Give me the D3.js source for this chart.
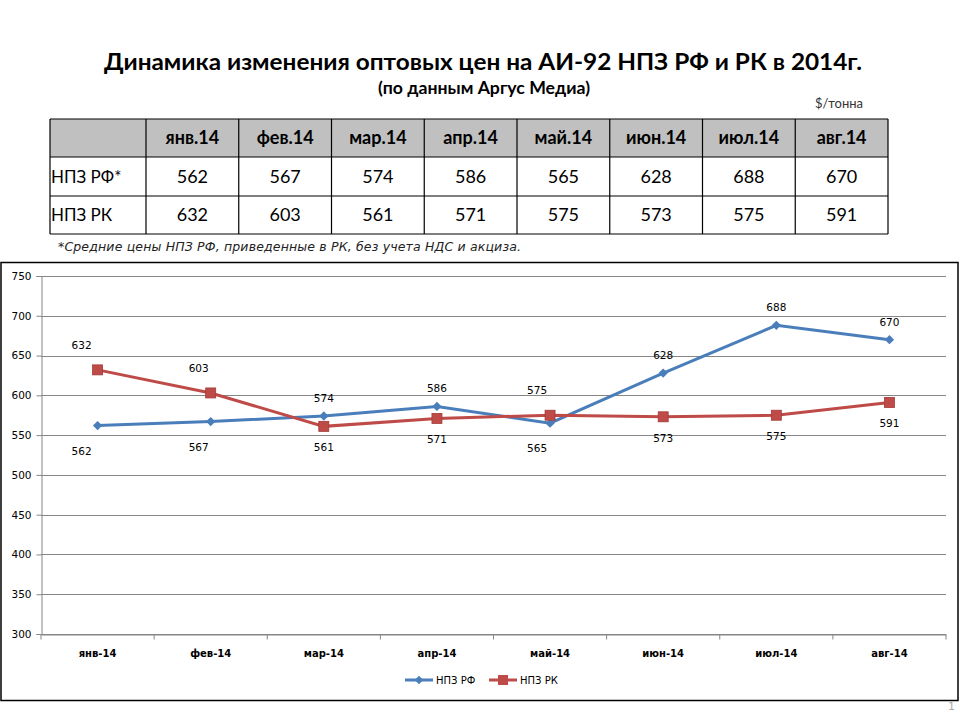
<!DOCTYPE html>
<html><head><meta charset="utf-8">
<script src="https://cdn.jsdelivr.net/npm/d3@7"></script>
<style>body{margin:0;background:#fff}svg{display:block}</style>
</head><body>
<script>
const tableMonths = ["янв.14","фев.14","мар.14","апр.14","май.14","июн.14","июл.14","авг.14"];
const axisMonths = ["янв-14","фев-14","мар-14","апр-14","май-14","июн-14","июл-14","авг-14"];
const rowNames = ["НПЗ РФ*","НПЗ РК"];
const seriesNames = ["НПЗ РФ","НПЗ РК"];
const rfValues = [562,567,574,586,565,628,688,670];
const rkValues = [632,603,561,571,575,573,575,591];
const rfLabelSide = ["below","below","above","above","below","above","above","above"];
const rkLabelSide = ["above","above","below","below","above","below","below","below"];
const labelNudge = [-16,-12,0,0,-13,0,0,0];
const yTicks = [300,350,400,450,500,550,600,650,700,750];

const W=960,H=720;
const svg=d3.select("body").append("svg").attr("width",W).attr("height",H);
const titleFont="Lato, 'Open Sans', sans-serif";
const chartFont="'DejaVu Sans', Verdana, sans-serif";

svg.append("text").attr("x",483).attr("y",70).attr("text-anchor","middle")
 .attr("font-family",titleFont).attr("font-weight","bold").attr("font-size",23)
 .attr("textLength",758).attr("lengthAdjust","spacingAndGlyphs")
 .text("Динамика изменения оптовых цен на АИ-92 НПЗ РФ и РК в 2014г.");
svg.append("text").attr("x",484).attr("y",94).attr("text-anchor","middle")
 .attr("font-family",titleFont).attr("font-weight","bold").attr("font-size",16.5)
 .attr("textLength",212).attr("lengthAdjust","spacingAndGlyphs")
 .text("(по данным Аргус Медиа)");
svg.append("text").attr("x",863).attr("y",108).attr("text-anchor","end")
 .attr("font-family",titleFont).attr("font-size",13).attr("fill","#333")
 .text("$/тонна");

// table
const tx0=50, colW=(888-146)/8, ty=[119,157,196,234];
const tb=svg.append("g");
tb.append("rect").attr("x",tx0).attr("y",ty[0]).attr("width",888-tx0).attr("height",ty[1]-ty[0]).attr("fill","#c0c0c0");
const colX=i=>146+i*colW;
[0,1,2,3].forEach(r=>tb.append("line").attr("x1",tx0).attr("x2",888).attr("y1",ty[r]).attr("y2",ty[r]).attr("stroke","#000").attr("stroke-width",1.2));
for(let i=0;i<=8;i++){tb.append("line").attr("x1",colX(i)).attr("x2",colX(i)).attr("y1",ty[0]).attr("y2",ty[3]).attr("stroke","#000").attr("stroke-width",1.2);}
tb.append("line").attr("x1",tx0).attr("x2",tx0).attr("y1",ty[0]).attr("y2",ty[3]).attr("stroke","#000").attr("stroke-width",1.2);
tableMonths.forEach((m,i)=>tb.append("text").attr("x",colX(i)+colW/2).attr("y",(ty[0]+ty[1])/2+6).attr("text-anchor","middle")
 .attr("font-family",titleFont).attr("font-weight","bold").attr("font-size",18).text(m));
[rfValues,rkValues].forEach((vals,r)=>{
 tb.append("text").attr("x",tx0+1).attr("y",(ty[r+1]+ty[r+2])/2+6).attr("font-family",titleFont).attr("font-size",17).text(rowNames[r]);
 vals.forEach((v,i)=>tb.append("text").attr("x",colX(i)+colW/2).attr("y",(ty[r+1]+ty[r+2])/2+6).attr("text-anchor","middle")
  .attr("font-family",titleFont).attr("font-size",18).text(v));
});
svg.append("text").attr("x",58).attr("y",251).attr("font-family",chartFont).attr("font-style","italic").attr("font-size",12.5).attr("fill","#222")
 .attr("textLength",463).attr("lengthAdjust","spacing")
 .text("*Средние цены НПЗ РФ, приведенные в РК, без учета НДС и акциза.");

// chart frame
svg.append("rect").attr("x",1).attr("y",262.5).attr("width",957).attr("height",438).attr("fill","none").attr("stroke","#000").attr("stroke-width",1.5);

const x=d3.scaleBand().domain(axisMonths).range([41,946]);
const y=d3.scaleLinear().domain([300,750]).range([634,276]);
const g=svg.append("g");
g.selectAll(".grid").data(yTicks).enter().append("line").attr("x1",41).attr("x2",946)
 .attr("y1",d=>Math.round(y(d))+0.5).attr("y2",d=>Math.round(y(d))+0.5).attr("stroke","#868686").attr("stroke-width",1);
const ya=g.append("g").attr("transform","translate(41.5,0)").call(d3.axisLeft(y).tickValues(yTicks).tickSize(5).tickPadding(5));
ya.select(".domain").attr("stroke","#868686");
ya.selectAll(".tick line").attr("stroke","#868686");
ya.selectAll("text").attr("font-family",chartFont).attr("font-size",10.5).attr("fill","#000");
const xa=g.append("g").attr("transform",`translate(0,${Math.round(y(300))+0.5})`).call(d3.axisBottom(x).tickSize(0).tickPadding(15));
xa.select(".domain").attr("stroke","#868686");
xa.selectAll("text").attr("font-family",chartFont).attr("font-weight","bold").attr("font-size",10).attr("fill","#000");
const bounds=axisMonths.map(m=>x(m)).concat([946]);
g.selectAll(".xt").data(bounds).enter().append("line").attr("x1",d=>d).attr("x2",d=>d)
 .attr("y1",Math.round(y(300))+0.5).attr("y2",Math.round(y(300))+5.5).attr("stroke","#868686");

const cx=i=>x(axisMonths[i])+x.bandwidth()/2;
const line=d3.line().x((d,i)=>cx(i)).y(d=>y(d));
const blue="#4a7ebb", red="#be4b48";
g.append("path").datum(rfValues).attr("d",line).attr("fill","none").attr("stroke",blue).attr("stroke-width",3);
g.append("path").datum(rkValues).attr("d",line).attr("fill","none").attr("stroke",red).attr("stroke-width",3);
g.selectAll(".rfm").data(rfValues).enter().append("path")
 .attr("d",d3.symbol(d3.symbolDiamond2,55)).attr("transform",(d,i)=>`translate(${cx(i)},${y(d)})`).attr("fill",blue);
g.selectAll(".rkm").data(rkValues).enter().append("rect")
 .attr("x",(d,i)=>cx(i)-5).attr("y",d=>y(d)-5).attr("width",10).attr("height",10).attr("fill",red).attr("stroke","#a33a37").attr("stroke-width",0.8);
function labels(vals,side,above,below){
 g.selectAll(null).data(vals).enter().append("text").attr("x",(d,i)=>cx(i)+labelNudge[i]).attr("text-anchor","middle")
  .attr("y",(d,i)=>y(d)+(side[i]==="above"?above:below)).attr("font-family",chartFont).attr("font-size",10.5).attr("fill","#000").text(d=>d);
}
labels(rfValues,rfLabelSide,-14,29);
labels(rkValues,rkLabelSide,-21,25);

const lg=svg.append("g").attr("transform","translate(405,680)");
lg.append("line").attr("x1",0).attr("x2",28).attr("stroke",blue).attr("stroke-width",3);
lg.append("path").attr("d",d3.symbol(d3.symbolDiamond2,45)).attr("transform","translate(14,0)").attr("fill",blue);
lg.append("text").attr("x",31).attr("y",4).attr("font-family",chartFont).attr("font-size",10).text(seriesNames[0]);
lg.append("line").attr("x1",84).attr("x2",112).attr("stroke",red).attr("stroke-width",3);
lg.append("rect").attr("x",93).attr("y",-5).attr("width",10).attr("height",10).attr("fill",red);
lg.append("text").attr("x",115).attr("y",4).attr("font-family",chartFont).attr("font-size",10).text(seriesNames[1]);

svg.append("text").attr("x",948).attr("y",710).attr("font-family",chartFont).attr("font-size",11).attr("fill","#aaa").text("1");
</script>
</body></html>
